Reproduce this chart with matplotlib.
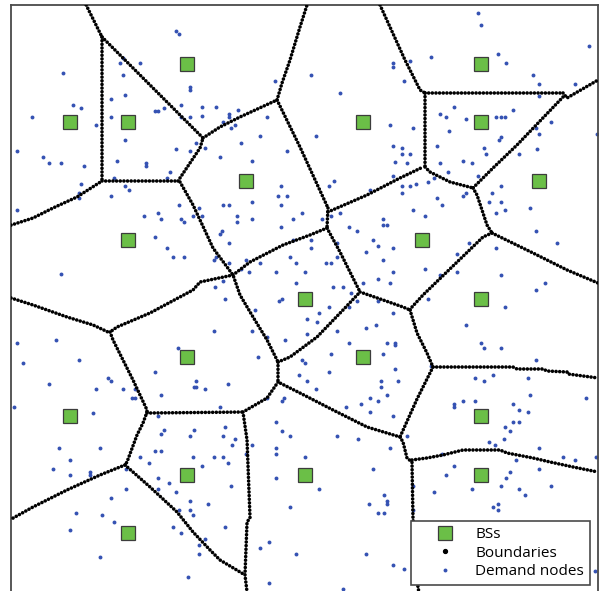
import numpy as np
import matplotlib
matplotlib.use("Agg")
import matplotlib.pyplot as plt
from matplotlib.lines import Line2D

plt.rcParams['font.family'] = ['Open Sans', 'DejaVu Sans']

# base stations on the unit grid of a 10 x 10 area
bs_x = [3, 8, 1, 2, 6, 8, 4, 9, 2, 7, 5, 8, 3, 6, 1, 8, 3, 5, 8, 2]
bs_y = [9, 9, 8, 8, 8, 8, 7, 7, 6, 6, 5, 5, 4, 4, 3, 3, 2, 2, 2, 1]

# demand node locations
demand_nodes = [
    (2.81, 9.56), (2.86, 9.50), (1.90, 9.10), (1.85, 9.01), (2.20, 9.01), (0.89, 8.85), (1.90, 8.81),
    (3.05, 8.60), (3.05, 8.55), (1.95, 8.46), (1.70, 8.40), (1.05, 8.30), (1.20, 8.25), (2.45, 8.20),
    (2.51, 8.20), (2.60, 8.25), (2.90, 8.30), (0.35, 8.10), (1.70, 8.10), (2.90, 8.10), (3.05, 8.10),
    (1.45, 7.95), (1.95, 7.70), (3.16, 7.65),
    (6.50, 9.01), (6.50, 8.95), (5.11, 8.81), (4.50, 8.71), (5.60, 8.50), (3.25, 8.26), (3.50, 8.26),
    (3.86, 8.21), (3.71, 8.15), (3.71, 8.10), (3.25, 8.11), (4.36, 8.10), (3.61, 8.01), (3.81, 7.96),
    (3.75, 7.90), (6.46, 7.95), (5.20, 7.76), (4.25, 7.76), (3.91, 7.65),
    (7.95, 9.86), (8.00, 9.66), (9.85, 9.31), (8.30, 9.16), (8.44, 9.01), (7.15, 9.11), (6.80, 9.05),
    (8.90, 8.81), (9.00, 8.65), (6.70, 8.71), (9.60, 8.65), (9.00, 8.45), (7.55, 8.26), (7.30, 8.15),
    (7.41, 8.10), (8.55, 8.21), (8.26, 8.10), (8.35, 8.10), (8.41, 8.10), (7.75, 8.06), (9.20, 8.01),
    (6.85, 7.90), (8.95, 7.90), (7.46, 7.85), (9.00, 7.80), (9.98, 7.80), (8.35, 7.75), (8.31, 7.70),
    (0.10, 7.51), (0.55, 7.41), (0.65, 7.30), (0.85, 7.30), (1.25, 7.25), (1.80, 7.35), (2.30, 7.30),
    (2.30, 7.25), (2.81, 7.55), (3.05, 7.51), (2.71, 7.16), (2.65, 7.05), (1.76, 7.05), (1.95, 6.91),
    (2.01, 6.85), (1.20, 6.95), (1.16, 6.80), (1.16, 6.71), (1.70, 6.75), (0.10, 6.50), (2.86, 6.60),
    (3.20, 6.55), (2.26, 6.41), (2.51, 6.46), (2.56, 6.35), (2.90, 6.35), (2.95, 6.30), (3.10, 6.41),
    (2.45, 6.05), (2.65, 5.86), (2.76, 5.70), (2.95, 5.70), (0.85, 5.41),
    (3.31, 7.56), (3.56, 7.41), (4.10, 7.35), (4.70, 7.51), (6.50, 7.60), (6.54, 7.32), (6.50, 7.09),
    (5.50, 7.00), (5.41, 6.91), (4.60, 6.91), (4.55, 6.75), (4.70, 6.75), (4.10, 6.65), (3.61, 6.60),
    (3.71, 6.60), (4.60, 6.60), (3.25, 6.41), (3.85, 6.41), (3.85, 6.30), (4.10, 6.35), (4.95, 6.45),
    (4.80, 6.35), (5.30, 6.35), (5.45, 6.41), (5.61, 6.45), (6.11, 6.85), (6.34, 6.35), (6.34, 6.25),
    (6.40, 6.25), (4.60, 6.21), (5.75, 6.21), (5.90, 6.15), (3.60, 6.15), (3.56, 6.10), (3.71, 5.95),
    (6.16, 6.00), (6.26, 5.90), (5.11, 6.00), (4.81, 6.00), (5.55, 5.95), (6.05, 5.80), (6.50, 5.86),
    (4.75, 5.70), (5.11, 5.86), (5.55, 5.70), (6.34, 5.65), (3.45, 5.65), (3.50, 5.70), (3.71, 5.60),
    (4.00, 5.65), (4.25, 5.60), (4.86, 5.60), (5.36, 5.60), (5.45, 5.60), (6.50, 5.45), (4.51, 5.45),
    (5.01, 5.45), (4.06, 5.45), (3.91, 5.50), (6.26, 5.34), (6.46, 5.26), (4.86, 5.26), (5.49, 5.20),
    (5.65, 5.20), (6.00, 5.26), (3.61, 5.30), (3.47, 5.20),
    (6.66, 7.56), (6.80, 7.46), (6.66, 7.46), (7.25, 7.60), (8.05, 7.56), (8.10, 7.46), (8.96, 7.55),
    (8.65, 7.46), (6.75, 7.30), (7.30, 7.30), (7.70, 7.35), (7.85, 7.30), (7.45, 7.16), (7.20, 7.05),
    (7.10, 6.98), (7.95, 7.09), (6.66, 6.91), (6.80, 6.91), (6.90, 6.95), (6.66, 6.80), (7.70, 6.75),
    (7.75, 6.80), (8.35, 6.91), (8.20, 6.80), (7.25, 6.71), (8.15, 6.65), (8.35, 6.65), (7.35, 6.60),
    (8.85, 6.55), (6.85, 6.50), (8.26, 6.45), (8.41, 6.50), (7.05, 6.41), (8.95, 6.15), (7.80, 5.95),
    (9.30, 5.95), (8.26, 5.86), (7.60, 5.75), (7.05, 5.50), (7.30, 5.40), (7.60, 5.45), (8.35, 5.40),
    (9.10, 5.26),
    (0.10, 4.25), (0.76, 4.30), (0.20, 3.90), (1.15, 3.95), (0.65, 3.55), (1.45, 3.45), (1.65, 3.65),
    (1.70, 3.60), (0.05, 3.15), (1.40, 3.05), (1.90, 3.45), (2.06, 3.31), (2.11, 3.31), (2.11, 3.45),
    (2.85, 4.15), (2.45, 3.75), (3.15, 3.60), (3.11, 3.50), (3.16, 3.50), (2.56, 3.35), (2.51, 3.00),
    (2.60, 2.76), (2.56, 2.70), (3.11, 2.76),
    (3.65, 5.00), (4.61, 5.00), (4.56, 4.95), (5.80, 5.10), (5.89, 4.95), (5.75, 4.86), (6.26, 4.95),
    (6.50, 4.75), (4.16, 4.80), (5.41, 4.85), (5.25, 4.75), (5.05, 4.65), (5.21, 4.60), (6.05, 4.50),
    (6.21, 4.55), (3.45, 4.45), (4.10, 4.45), (5.55, 4.45), (5.05, 4.40), (4.36, 4.35), (4.66, 4.30),
    (5.75, 4.25), (6.40, 4.25), (6.55, 4.25), (6.55, 4.20), (6.34, 4.06), (5.45, 4.06), (4.20, 4.01),
    (4.95, 3.95), (5.01, 3.90), (6.55, 3.80), (5.41, 3.75), (4.90, 3.70), (6.30, 3.60), (6.60, 3.60),
    (5.05, 3.60), (3.70, 3.55), (3.31, 3.45), (5.20, 3.45), (6.30, 3.50), (6.40, 3.35), (6.11, 3.30),
    (6.26, 3.25), (4.65, 3.30), (4.61, 3.25), (4.36, 3.30), (5.96, 3.20), (5.71, 3.15), (3.56, 3.15),
    (6.11, 3.06), (6.50, 3.00), (4.51, 2.90), (3.65, 2.81), (4.61, 2.75),
    (8.95, 5.15), (7.10, 5.00), (8.41, 4.85), (7.75, 4.55), (8.00, 4.25), (8.05, 4.15), (8.35, 4.15),
    (8.95, 3.95), (7.15, 3.85), (7.91, 3.65), (8.05, 3.60), (8.21, 3.70), (8.80, 3.65), (8.85, 3.35),
    (9.80, 3.30), (7.70, 3.25), (7.91, 3.25), (7.55, 3.20), (7.55, 3.15), (8.55, 3.20), (8.65, 3.10),
    (8.80, 3.06), (8.55, 2.90), (8.65, 2.90), (8.41, 2.81), (8.50, 2.75),
    (0.81, 2.45), (1.51, 2.45), (1.00, 2.25), (0.71, 2.10), (1.00, 2.00), (1.35, 2.05), (1.35, 2.00),
    (1.96, 2.10), (2.45, 2.40), (2.56, 2.40), (2.20, 2.30), (2.35, 2.20), (3.05, 2.65), (3.10, 2.30),
    (2.51, 1.95), (2.70, 1.85), (2.51, 1.76), (2.81, 1.70), (1.96, 1.76), (1.70, 1.60), (3.05, 1.55),
    (1.10, 1.35), (1.55, 1.31), (1.76, 1.20), (2.86, 1.40), (3.05, 1.40), (3.10, 1.31), (1.00, 1.05),
    (2.76, 1.10), (2.90, 1.00), (3.20, 0.80), (3.20, 0.65), (1.51, 0.60), (3.01, 0.25),
    (3.61, 2.65), (3.81, 2.60), (3.76, 2.51), (4.10, 2.51), (4.75, 2.65), (5.55, 2.65), (5.91, 2.60),
    (4.51, 2.45), (4.51, 2.35), (4.01, 2.35), (3.45, 2.30), (3.61, 2.30), (3.70, 2.20), (3.26, 2.15),
    (5.01, 2.30), (6.46, 2.45), (6.16, 2.10), (4.51, 1.95), (3.75, 1.80), (5.25, 1.76), (6.35, 1.65),
    (6.40, 1.55), (6.40, 1.50), (6.10, 1.50), (3.35, 1.50), (4.75, 1.45), (6.26, 1.35), (6.35, 1.35),
    (3.65, 1.10), (3.31, 0.90), (4.40, 0.85), (4.25, 0.75), (4.86, 0.65), (6.05, 0.65), (6.50, 0.46),
    (4.40, 0.15), (5.65, 0.05),
    (6.75, 2.65), (8.15, 2.56), (8.25, 2.51), (8.40, 2.60), (9.00, 2.45), (7.35, 2.35), (8.60, 2.25),
    (9.00, 2.10), (9.40, 2.30), (9.60, 2.25), (9.97, 2.30), (7.55, 2.15), (7.41, 2.00), (8.50, 2.05),
    (8.44, 1.95), (6.85, 1.80), (7.86, 1.76), (8.35, 1.80), (8.65, 1.76), (9.20, 1.80), (7.20, 1.70),
    (8.75, 1.65), (8.30, 1.50), (8.21, 1.45), (8.30, 1.40), (6.85, 1.40), (6.70, 0.40), (9.95, 0.35),
]

# cell boundaries as polylines (vertices only)
boundaries = [
    [(1.28, 10.0), (1.55, 9.455)],
    [(1.55, 9.455), (1.55, 7.002)],
    [(1.55, 7.002), (2.845, 7.002)],
    [(0.0, 6.25), (0.375, 6.371), (0.716, 6.542), (1.124, 6.729), (1.55, 7.002)],
    [(1.55, 9.455), (3.271, 7.734)],
    [(2.845, 7.002), (3.22, 7.564), (3.271, 7.734)],
    [(3.271, 7.734), (3.56, 7.922), (3.901, 8.092), (4.532, 8.382)],
    [(4.532, 8.382), (4.617, 8.671), (4.753, 9.063), (4.923, 9.625), (5.043, 10.0)],
    [(4.532, 8.382), (4.923, 7.581), (5.40, 6.542)],
    [(5.40, 6.542), (5.383, 6.201)],
    [(5.40, 6.474), (6.065, 6.763), (6.627, 7.053), (7.019, 7.240)],
    [(7.053, 8.501), (7.053, 7.240)],
    [(7.053, 8.501), (9.404, 8.501)],
    [(9.404, 8.501), (9.472, 8.416), (10.0, 8.722)],
    [(6.286, 10.0), (6.712, 9.063), (6.968, 8.552), (7.053, 8.501)],
    [(9.404, 8.433), (8.620, 7.615), (8.211, 7.223), (7.870, 6.883)],
    [(7.053, 7.240), (7.138, 7.155), (7.479, 6.985), (7.870, 6.883)],
    [(7.870, 6.883), (7.939, 6.763), (8.109, 6.252), (8.194, 6.116)],
    [(8.194, 6.116), (8.893, 5.775), (9.472, 5.486), (10.0, 5.264)],
    [(8.194, 6.116), (8.041, 6.048), (7.019, 5.060), (6.831, 4.855), (6.797, 4.804)],
    [(6.797, 4.804), (6.917, 4.412), (7.087, 4.071), (7.189, 3.833)],
    [(7.189, 3.833), (8.552, 3.833), (8.620, 3.799), (9.063, 3.799), (9.131, 3.765),
     (9.472, 3.748), (9.489, 3.714), (10.0, 3.646)],
    [(7.189, 3.833), (6.917, 3.288), (6.627, 2.641)],
    [(6.627, 2.641), (6.678, 2.555), (6.746, 2.283), (6.831, 2.215), (6.848, 1.261),
     (6.934, 0.068), (6.951, 0.0)],
    [(6.831, 2.249), (7.087, 2.283), (7.359, 2.334), (7.700, 2.419), (8.331, 2.419),
     (8.450, 2.368), (8.893, 2.283), (9.182, 2.215), (9.574, 2.130), (10.0, 2.044)],
    [(6.627, 2.641), (6.065, 2.811), (5.485, 3.101), (4.923, 3.390), (4.549, 3.577)],
    [(4.549, 3.918), (4.549, 3.577)],
    [(4.549, 3.918), (4.753, 4.003), (5.213, 4.344), (5.656, 4.804), (5.946, 5.111)],
    [(5.946, 5.111), (6.337, 4.975), (6.678, 4.855), (6.797, 4.804)],
    [(5.383, 6.201), (5.605, 5.792), (5.826, 5.349), (5.946, 5.111)],
    [(5.383, 6.201), (5.094, 6.082), (4.634, 5.911), (4.072, 5.622), (3.782, 5.400)],
    [(2.879, 6.985), (3.101, 6.593), (3.339, 6.082), (3.441, 5.860), (3.782, 5.400),
     (3.901, 5.060), (4.123, 4.685), (4.362, 4.293), (4.549, 3.918)],
    [(3.782, 5.400), (3.220, 5.281), (3.101, 5.145), (2.368, 4.753), (1.806, 4.514), (1.687, 4.429)],
    [(0.0, 5.009), (0.375, 4.889), (0.954, 4.685), (1.397, 4.549), (1.653, 4.429), (1.687, 4.429)],
    [(1.687, 4.429), (1.738, 4.293), (1.908, 3.952), (2.078, 3.612), (2.317, 3.101), (2.317, 3.066)],
    [(2.317, 3.049), (3.952, 3.066)],
    [(4.549, 3.577), (4.362, 3.305), (3.952, 3.066)],
    [(3.952, 3.066), (4.021, 2.589), (4.072, 1.261), (4.021, 1.193), (3.986, 0.290), (4.021, 0.0)],
    [(2.317, 3.066), (2.249, 2.879), (2.147, 2.675), (1.976, 2.215), (1.942, 2.164)],
    [(1.942, 2.164), (1.516, 1.993), (0.954, 1.738), (0.375, 1.448), (0.0, 1.24)],
    [(1.942, 2.164), (2.368, 1.789), (2.828, 1.363), (3.101, 1.022), (3.390, 0.716),
     (3.560, 0.545), (3.986, 0.290)],
]

fig = plt.figure(figsize=(6.05, 5.91), dpi=100)
ax = fig.add_axes([11 / 605, 1 - 5 / 591 - 587 / 591, 587 / 605, 587 / 591])

dn = np.array(demand_nodes)
ax.plot(dn[:, 0], dn[:, 1], 'o', ms=2.8, color='#3552b3', mec='none', zorder=2)

# boundaries drawn as chains of dots
for seg in boundaries:
    seg = np.array(seg)
    ax.plot(seg[:, 0], seg[:, 1], color='black', lw=2.6,
            linestyle=(0, (0.01, 1.0)), dash_capstyle='round', zorder=3)

ax.plot(bs_x, bs_y, 's', ms=9.5, mfc='#6bbf47', mec='#3c3c3c', mew=0.9, zorder=4)

ax.set_xlim(0, 10)
ax.set_ylim(0, 10)
ax.set_xticks([])
ax.set_yticks([])
for sp in ax.spines.values():
    sp.set_color('#4a4a4a')
    sp.set_linewidth(1.3)

handles = [
    Line2D([], [], marker='s', ls='none', ms=9.5, mfc='#6bbf47', mec='#3c3c3c', mew=0.9),
    Line2D([], [], marker='o', ls='none', ms=2.8, color='black'),
    Line2D([], [], marker='o', ls='none', ms=2.8, color='#3552b3', mec='none'),
]
leg = ax.legend(handles, ['BSs', 'Boundaries', 'Demand nodes'], loc='lower right',
                bbox_to_anchor=(0.9864, 0.0119), borderaxespad=0, fontsize=11,
                frameon=True, fancybox=False, framealpha=1, edgecolor='#4a4a4a',
                borderpad=0.4, handlelength=3.6, handletextpad=0.2, labelspacing=0.22)
leg.get_frame().set_linewidth(1.2)

fig.savefig('out.png', dpi=100)
